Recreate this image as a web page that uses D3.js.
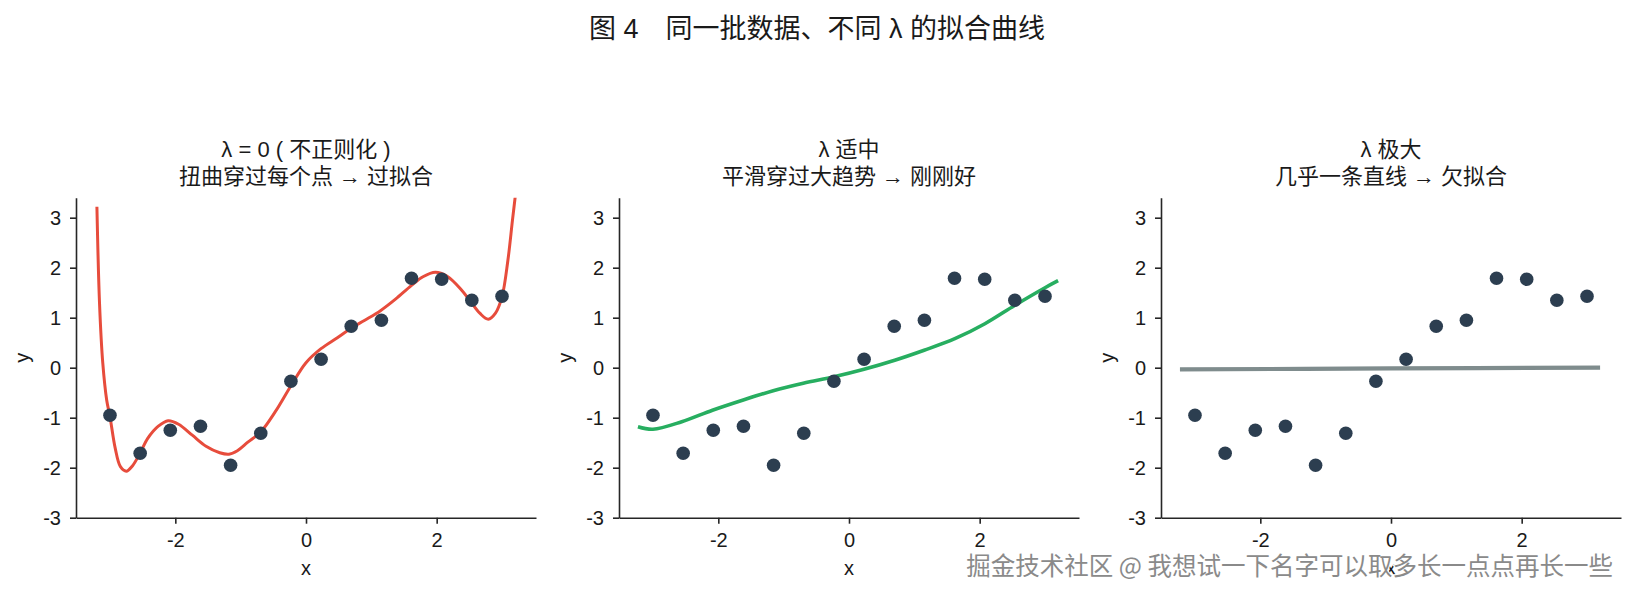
<!DOCTYPE html>
<html lang="zh">
<head>
<meta charset="UTF-8">
<title>图 4 同一批数据、不同 λ 的拟合曲线</title>
<script src="https://d3js.org/d3.v7.min.js"></script>
<style>
  html, body { margin: 0; padding: 0; background: #ffffff; }
  svg { display: block; }
  text { font-family: "Liberation Sans", "Noto Sans CJK SC", sans-serif; fill: #1a1a1a; }
  .axis path, .axis line { stroke: #262626; stroke-width: 1.6; }
  .axis text { font-size: 20px; fill: #1a1a1a; }
</style>
</head>
<body>
<svg id="chart" width="1635" height="595"></svg>
<script>
// ---------------------------------------------------------------
// Data
// ---------------------------------------------------------------
const pointX = [-3, -2.538, -2.077, -1.615, -1.154, -0.692, -0.231, 0.231, 0.692, 1.154, 1.615, 2.077, 2.538, 3];
const pointY = [-0.95, -1.71, -1.25, -1.17, -1.95, -1.31, -0.27, 0.17, 0.83, 0.95, 1.79, 1.77, 1.35, 1.43];

// λ = 0 : wiggly over-fit curve
const redX = [-3.20, -3.16, -3.11, -3.05, -3.00, -2.92, -2.84, -2.75, -2.66, -2.54, -2.42, -2.26, -2.11, -1.95,
              -1.74, -1.53, -1.32, -1.18, -1.05, -0.89, -0.69, -0.47, -0.23, 0.00, 0.23, 0.48, 0.69, 0.90,
              1.14, 1.37, 1.61, 1.79, 1.98, 2.16, 2.37, 2.52, 2.66, 2.79, 2.90, 3.00, 3.09, 3.16, 3.22];
const redY = [3.22, 1.29, 0.09, -0.65, -0.98, -1.61, -1.98, -2.07, -1.97, -1.71, -1.41, -1.17, -1.06, -1.13,
              -1.35, -1.57, -1.70, -1.73, -1.66, -1.49, -1.28, -0.88, -0.36, 0.10, 0.38, 0.60, 0.79, 0.95,
              1.14, 1.37, 1.64, 1.82, 1.91, 1.83, 1.57, 1.32, 1.09, 0.97, 1.09, 1.42, 2.15, 2.95, 3.62];

// λ moderate : smooth curve
const greenX = [-3.23, -3.00, -2.56, -2.09, -1.63, -1.16, -0.70, -0.23, 0.23, 0.70, 1.15, 1.62, 2.08, 2.54, 3.00, 3.20];
const greenY = [-1.18, -1.23, -1.08, -0.85, -0.65, -0.46, -0.31, -0.18, -0.03, 0.15, 0.35, 0.58, 0.88, 1.25, 1.60, 1.74];

// λ huge : almost flat line
const grayX = [-3.23, 0.00, 3.20];
const grayY = [-0.035, -0.015, 0.00];

const xTicks = [-2, 0, 2];
const yTicks = [-3, -2, -1, 0, 1, 2, 3];

const figTitle = "图 4　同一批数据、不同 λ 的拟合曲线";
const panelTitles = [
  ["λ = 0 ( 不正则化 )", "扭曲穿过每个点 → 过拟合"],
  ["λ 适中", "平滑穿过大趋势 → 刚刚好"],
  ["λ 极大", "几乎一条直线 → 欠拟合"]
];
const watermark = "掘金技术社区 @ 我想试一下名字可以取多长一点点再长一些";

// ---------------------------------------------------------------
// Layout
// ---------------------------------------------------------------
const panelLefts = [76, 619, 1161];
const panelWidth = 460;
const plotTop = 197.7;
const plotBottom = 517.7;

const panels = [
  { xs: redX, ys: redY, color: "#e74c3c", width: 3.0 },
  { xs: greenX, ys: greenY, color: "#27ae60", width: 3.6 },
  { xs: grayX, ys: grayY, color: "#7f8c8d", width: 4.2 }
];

const tickFmt = d => String(d);   // plain hyphen minus, as in the reference

const svg = d3.select("#chart");

svg.append("text")
  .attr("x", 817).attr("y", 38)
  .attr("text-anchor", "middle")
  .style("font-size", "27px")
  .style("white-space", "pre")
  .text(figTitle);

const points = pointX.map((x, i) => ({ x, y: pointY[i] }));

panels.forEach((p, idx) => {
  const left = panelLefts[idx];
  const x = d3.scaleLinear().domain([-3.52, 3.52]).range([left, left + panelWidth]);
  const y = d3.scaleLinear().domain([-3, 3.4]).range([plotBottom, plotTop]);
  const g = svg.append("g");

  const clipId = "clip" + idx;
  g.append("clipPath").attr("id", clipId)
    .append("rect")
    .attr("x", left).attr("y", plotTop)
    .attr("width", panelWidth).attr("height", plotBottom - plotTop);

  // fitted curve
  const line = d3.line()
    .x(d => x(d[0])).y(d => y(d[1]))
    .curve(d3.curveCatmullRom.alpha(0.5));
  g.append("path")
    .datum(p.xs.map((v, i) => [v, p.ys[i]]))
    .attr("clip-path", `url(#${clipId})`)
    .attr("fill", "none")
    .attr("stroke", p.color)
    .attr("stroke-width", p.width)
    .attr("d", line);

  // data points
  g.selectAll("circle").data(points).join("circle")
    .attr("cx", d => x(d.x)).attr("cy", d => y(d.y))
    .attr("r", 6.8)
    .attr("fill", "#2c3e50");

  // axes (left + bottom spines only)
  g.append("g").attr("class", "axis")
    .attr("transform", `translate(0,${plotBottom})`)
    .call(d3.axisBottom(x).tickValues(xTicks).tickSize(6).tickSizeOuter(0).tickPadding(9)
      .tickFormat(tickFmt));
  g.append("g").attr("class", "axis")
    .attr("transform", `translate(${left},0)`)
    .call(d3.axisLeft(y).tickValues(yTicks).tickSize(6).tickSizeOuter(0).tickPadding(9)
      .tickFormat(tickFmt));
  g.selectAll(".axis text").style("font-family", "'Liberation Sans', sans-serif");

  // axis labels
  g.append("text")
    .attr("x", left + panelWidth / 2).attr("y", 575)
    .attr("text-anchor", "middle")
    .style("font-size", "20px")
    .text("x");
  g.append("text")
    .attr("transform", `translate(${left - 47},${(plotTop + plotBottom) / 2}) rotate(-90)`)
    .attr("text-anchor", "middle")
    .style("font-size", "20px")
    .text("y");

  // panel titles
  panelTitles[idx].forEach((t, k) => {
    g.append("text")
      .attr("x", left + panelWidth / 2).attr("y", 156.5 + k * 27.5)
      .attr("text-anchor", "middle")
      .style("font-size", "22px")
      .style("white-space", "pre")
      .text(t);
  });
});

// watermark
svg.append("text")
  .attr("x", 1613).attr("y", 575)
  .attr("text-anchor", "end")
  .style("font-size", "24.5px")
  .style("font-family", "'Noto Sans CJK SC', sans-serif")
  .style("fill", "#8a8a8a")
  .style("stroke", "#ffffff")
  .style("stroke-width", 2.5)
  .style("paint-order", "stroke")
  .text(watermark);
</script>
</body>
</html>
